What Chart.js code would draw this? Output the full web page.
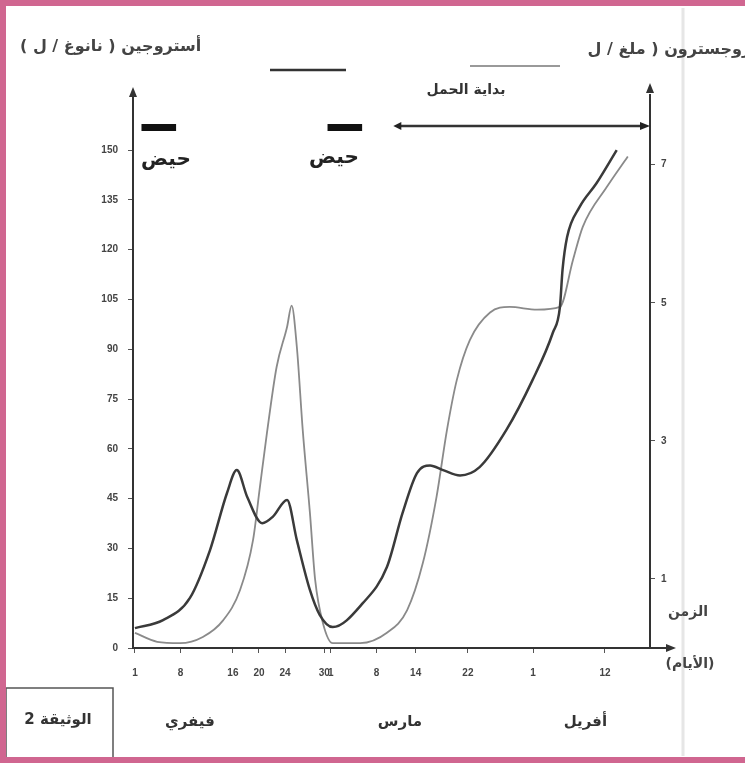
<!DOCTYPE html>
<html>
<head>
<meta charset="utf-8">
<script src="https://cdn.jsdelivr.net/npm/chart.js@4.4.0/dist/chart.umd.min.js"></script>
<style>
  html, body { margin: 0; padding: 0; background: #fff; }
  canvas { display: block; }
</style>
</head>
<body>
<canvas id="hormones" width="745" height="764"></canvas>
<script>
// days are counted from 1 February (day 0)
const estrogenDays   = [0, 4.3, 8.4, 11.5, 14.1, 15.6, 17.2, 19.5, 21.1, 23.3, 24.8, 26.8, 28.3, 30.3, 34.9, 38.6, 41, 43.2, 45.2, 47.2, 49.8, 52.8, 56.9, 60.9, 64, 65.1, 65.5, 66.2, 68.1, 70.7, 73.8];
const estrogenLevels = [6, 8.4, 15, 29.5, 46.7, 53.6, 45.5, 37.6, 39.5, 44.6, 32.5, 17.5, 10, 6.3, 13.5, 24.4, 40.7, 52.7, 55, 53.6, 52, 54.5, 65.7, 80.7, 94.9, 102.7, 113.9, 123.8, 132.8, 140, 150];

const progesteroneDays   = [0, 3.4, 6.9, 10.4, 13.5, 16.1, 18.1, 19.1, 20.2, 21.7, 23.3, 24, 24.8, 25.7, 26.8, 27.6, 28.8, 30.3, 34.5, 38.6, 41.7, 44.1, 46.2, 47.8, 49.3, 51.3, 54.4, 57.4, 61.6, 65.1, 67.1, 68.6, 72.3, 75.5];
const progesteroneLevels = [0.22, 0.09, 0.07, 0.16, 0.4, 0.84, 1.57, 2.3, 3.1, 4.07, 4.65, 4.96, 4.36, 3.16, 1.96, 0.99, 0.36, 0.07, 0.07, 0.22, 0.55, 1.23, 2.19, 3.16, 3.88, 4.46, 4.86, 4.94, 4.9, 4.94, 5.62, 6.1, 6.68, 7.12];

const dayTicks  = [0, 7, 15, 19, 23, 29, 30, 37, 43, 51, 61, 72];
const dayLabels = ['1', '8', '16', '20', '24', '30', '1', '8', '14', '22', '1', '12'];
const estrogenTicks     = [0, 15, 30, 45, 60, 75, 90, 105, 120, 135, 150];
const progesteroneTicks = [1, 3, 5, 7];
const monthNames = ['فيفري', 'مارس', 'أفريل'];
const monthDays  = [8.4, 40.6, 69];
const periodDays = [[1, 6.3], [29.5, 34.8]];
const pregnancyStart = 40.5;

const arabic = '"DejaVu Sans", sans-serif';

function arrowHead(ctx, x, y, dir) {
  ctx.beginPath();
  if (dir === 'up') { ctx.moveTo(x, y - 8); ctx.lineTo(x - 4, y + 2); ctx.lineTo(x + 4, y + 2); }
  if (dir === 'right') { ctx.moveTo(x + 8, y); ctx.lineTo(x - 2, y - 4); ctx.lineTo(x - 2, y + 4); }
  if (dir === 'left') { ctx.moveTo(x - 6, y); ctx.lineTo(x + 2, y - 4); ctx.lineTo(x + 2, y + 4); }
  ctx.closePath();
  ctx.fill();
}

const decor = {
  id: 'decor',
  beforeDraw(chart) {
    const ctx = chart.ctx;
    ctx.save();
    ctx.fillStyle = '#fff';
    ctx.fillRect(0, 0, chart.width, chart.height);
    // faint scan stripe
    ctx.strokeStyle = '#e6e6e6';
    ctx.lineWidth = 3;
    ctx.beginPath(); ctx.moveTo(683, 8); ctx.lineTo(683, 756); ctx.stroke();
    ctx.restore();
  },
  afterDraw(chart) {
    const ctx = chart.ctx;
    const a = chart.chartArea;
    const x = chart.scales.x;
    ctx.save();
    ctx.fillStyle = '#333';
    ctx.strokeStyle = '#333';

    // axis arrows
    ctx.lineWidth = 2;
    ctx.beginPath(); ctx.moveTo(a.right, a.bottom); ctx.lineTo(668, a.bottom); ctx.stroke();
    arrowHead(ctx, 668, a.bottom, 'right');
    arrowHead(ctx, a.left, a.top, 'up');
    arrowHead(ctx, a.right, a.top - 4, 'up');

    // menstruation bars
    ctx.fillStyle = '#111';
    periodDays.forEach(p => {
      const x0 = x.getPixelForValue(p[0]), x1 = x.getPixelForValue(p[1]);
      ctx.fillRect(x0, 124, x1 - x0, 7);
    });
    ctx.font = 'bold 20px ' + arabic;
    ctx.textAlign = 'center';
    ctx.textBaseline = 'middle';
    ctx.fillStyle = '#222';
    ctx.fillText('حيض', 166, 160);
    ctx.fillText('حيض', 334, 158);

    // start of pregnancy
    const ps = x.getPixelForValue(pregnancyStart);
    ctx.strokeStyle = '#333';
    ctx.lineWidth = 2.5;
    ctx.beginPath(); ctx.moveTo(ps, 126); ctx.lineTo(a.right - 6, 126); ctx.stroke();
    arrowHead(ctx, ps, 126, 'left');
    arrowHead(ctx, a.right - 8, 126, 'right');
    ctx.font = 'bold 14px ' + arabic;
    ctx.fillStyle = '#333';
    ctx.fillText('بداية الحمل', 466, 90);

    // axis titles and legend samples
    ctx.font = 'bold 16px ' + arabic;
    ctx.textAlign = 'left';
    ctx.fillStyle = '#444';
    ctx.fillText('أستروجين ( نانوغ / ل )', 20, 47);
    ctx.textAlign = 'right';
    ctx.fillText('بروجسترون ( ملغ / ل', 758, 50);
    ctx.lineWidth = 2.5;
    ctx.strokeStyle = '#333';
    ctx.beginPath(); ctx.moveTo(270, 70); ctx.lineTo(346, 70); ctx.stroke();
    ctx.lineWidth = 1.5;
    ctx.strokeStyle = '#777';
    ctx.beginPath(); ctx.moveTo(470, 66); ctx.lineTo(560, 66); ctx.stroke();

    // time axis title
    ctx.textAlign = 'center';
    ctx.font = 'bold 14px ' + arabic;
    ctx.fillStyle = '#444';
    ctx.fillText('الزمن', 688, 612);
    ctx.fillText('(الأيام)', 690, 664);

    // months
    ctx.font = 'bold 15px ' + arabic;
    ctx.fillStyle = '#333';
    monthNames.forEach((m, i) => ctx.fillText(m, x.getPixelForValue(monthDays[i]), 722));

    // document box
    ctx.strokeStyle = '#555';
    ctx.lineWidth = 1.5;
    ctx.strokeRect(6, 688, 107, 72);
    ctx.font = 'bold 15px ' + arabic;
    ctx.fillText('الوثيقة 2', 58, 720);

    // pink frame
    ctx.strokeStyle = '#d06690';
    ctx.lineWidth = 6;
    ctx.beginPath();
    ctx.moveTo(745, 3); ctx.lineTo(3, 3); ctx.lineTo(3, 760); ctx.lineTo(745, 760);
    ctx.stroke();
    ctx.restore();
  }
};

const tickFont = { family: '"Liberation Sans", Arial, sans-serif', size: 10, weight: 'bold' };

new Chart(document.getElementById('hormones'), {
  type: 'line',
  data: {
    datasets: [
      {
        label: 'أستروجين',
        data: estrogenDays.map((d, i) => ({ x: d, y: estrogenLevels[i] })),
        yAxisID: 'yE',
        borderColor: '#3a3a3a',
        borderWidth: 2.5,
        pointRadius: 0,
        cubicInterpolationMode: 'monotone'
      },
      {
        label: 'بروجسترون',
        data: progesteroneDays.map((d, i) => ({ x: d, y: progesteroneLevels[i] })),
        yAxisID: 'yP',
        borderColor: '#8a8a8a',
        borderWidth: 1.8,
        pointRadius: 0,
        cubicInterpolationMode: 'monotone'
      }
    ]
  },
  options: {
    responsive: false,
    animation: false,
    layout: { padding: { top: 95, left: 0, right: 0, bottom: 0 } },
    plugins: { legend: { display: false }, tooltip: { enabled: false } },
    scales: {
      x: {
        type: 'linear',
        min: -0.3,
        max: 78.9,
        afterFit: s => { s.height = 116; },
        afterBuildTicks: s => { s.ticks = dayTicks.map(v => ({ value: v })); },
        ticks: {
          autoSkip: false,
          maxRotation: 0,
          padding: 14,
          color: '#444',
          font: tickFont,
          callback: (v, i) => dayLabels[i]
        },
        grid: { drawOnChartArea: false, tickLength: 5, color: '#555' },
        border: { color: '#333', width: 2 }
      },
      yE: {
        position: 'left',
        min: 0,
        max: 166.6,
        afterFit: s => { s.width = 133; },
        afterBuildTicks: s => { s.ticks = estrogenTicks.map(v => ({ value: v })); },
        ticks: { padding: 10, color: '#444', font: tickFont },
        grid: { drawOnChartArea: false, tickLength: 5, color: '#555' },
        border: { color: '#333', width: 2 }
      },
      yP: {
        position: 'right',
        min: 0,
        max: 8.01,
        afterFit: s => { s.width = 95; },
        afterBuildTicks: s => { s.ticks = progesteroneTicks.map(v => ({ value: v })); },
        ticks: { padding: 6, color: '#444', font: tickFont },
        grid: { drawOnChartArea: false, tickLength: 5, color: '#555' },
        border: { color: '#333', width: 2 }
      }
    }
  },
  plugins: [decor]
});
</script>
</body>
</html>
